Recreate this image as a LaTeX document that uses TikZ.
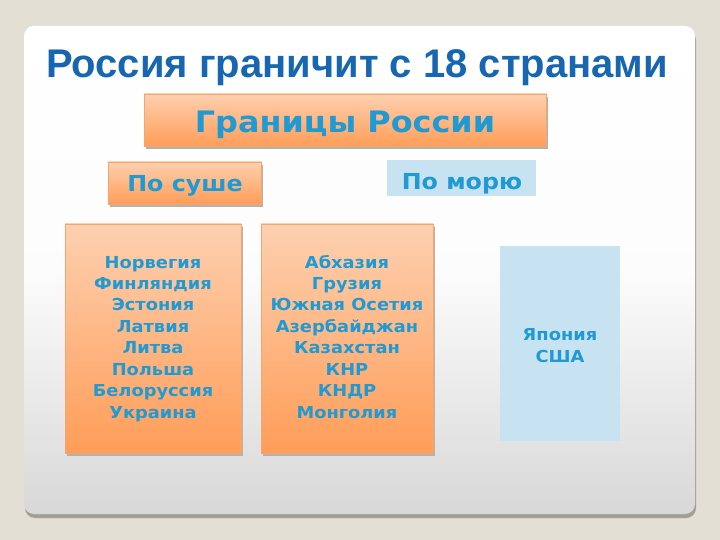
\documentclass[tikz,border=0pt]{standalone}
\usepackage{fontspec}
\setmainfont{DejaVu Sans}
\newfontfamily\titlefont{Liberation Sans}
\newfontfamily\boxfont[FakeStretch=1.08]{DejaVu Sans}
\definecolor{bgbeige}{HTML}{E4DFD4}
\definecolor{titleblue}{HTML}{1766B2}
\definecolor{boxblue}{HTML}{1F9AD3}
\definecolor{orangetop}{HTML}{FDD0B0}
\definecolor{orangebot}{HTML}{FF9D58}
\definecolor{orangeedge}{HTML}{F3A66E}
\definecolor{lightblue}{HTML}{C7E2F1}
\definecolor{panelbot}{HTML}{D8D8D8}
\definecolor{shadowgray}{HTML}{A39F98}
\tikzset{
  orangebox/.style={draw=orangeedge, line width=0.6pt, top color=orangetop, bottom color=orangebot},
  shadowbox/.style={fill=shadowgray!80},
  bluebox/.style={fill=lightblue},
  listtext/.style={text=boxblue, font=\boxfont\bfseries\fontsize{16.5}{19}\selectfont, anchor=base, inner sep=0pt},
}
\begin{document}
\begin{tikzpicture}[x=1pt,y=-1pt]
\useasboundingbox (0,0) rectangle (720,540);
\fill[bgbeige] (0,0) rectangle (720,540);
% panel
\fill[shadowgray, rounded corners=10pt] (25,30) rectangle (696,518);
\shade[rounded corners=10pt, top color=white, bottom color=panelbot, middle color=white!93!panelbot] (24,26) rectangle (695,514);
% title
\node[anchor=base, text=titleblue, font=\titlefont\bfseries\fontsize{40}{44}\selectfont, inner sep=0pt] (title) at (357,78) {Россия граничит с 18 странами};
% main header box
\fill[shadowbox] (146,97) rectangle (548,149);
\draw[orangebox] (144,94) rectangle (546,146);
\node[anchor=base, text=boxblue, font=\boxfont\bfseries\fontsize{29.5}{34}\selectfont, inner sep=0pt] (hdr) at (345,133) {Границы России};
% land header
\fill[shadowbox] (110,165) rectangle (263,207);
\draw[orangebox] (108,162) rectangle (261,204);
\node[anchor=base, text=boxblue, font=\boxfont\bfseries\fontsize{22}{24}\selectfont, inner sep=0pt] (land) at (185,192) {По суше};
% sea header
\fill[bluebox] (387,160) rectangle (536,196);
\node[anchor=base, text=boxblue, font=\boxfont\bfseries\fontsize{22}{24}\selectfont, inner sep=0pt] (sea) at (462,190) {По морю};
% land lists
\fill[shadowbox] (67,227) rectangle (243,456);
\draw[orangebox] (65,224) rectangle (241,453);
\fill[shadowbox] (263,227) rectangle (435,456);
\draw[orangebox] (261,224) rectangle (433,453);
\foreach \t [count=\i from 0] in {Норвегия,Финляндия,Эстония,Латвия,Литва,Польша,Белоруссия,Украина}
  \node[listtext] (a\i) at (153,{268+21.45*\i}) {\t};
\foreach \t [count=\i from 0] in {Абхазия,Грузия,Южная Осетия,Азербайджан,Казахстан,КНР,КНДР,Монголия}
  \node[listtext] (b\i) at (347,{268+21.45*\i}) {\t};
% sea list
\fill[bluebox] (500,246) rectangle (620,441);
\node[listtext] (c0) at (560,340) {Япония};
\node[listtext] (c1) at (560,362) {США};
\end{tikzpicture}
\end{document}
